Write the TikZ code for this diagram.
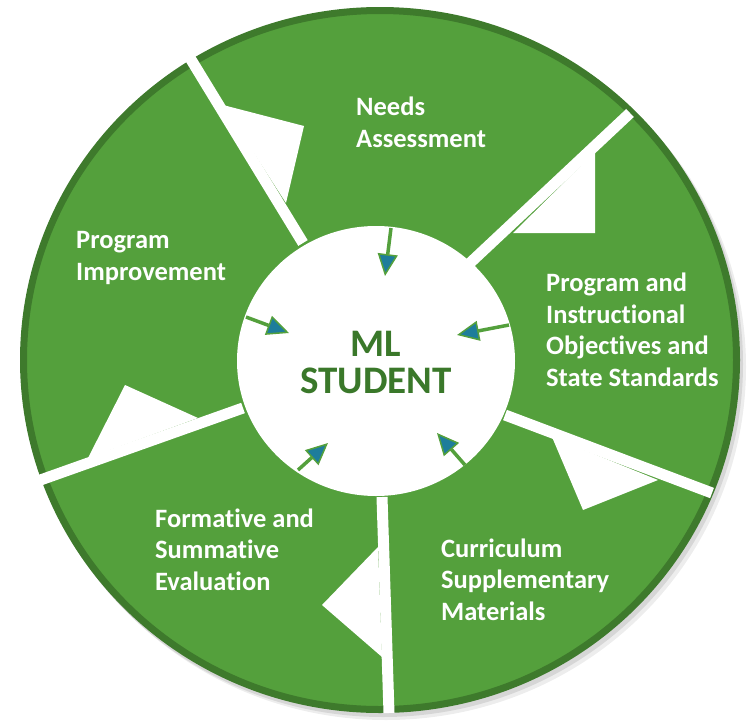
\documentclass[tikz,border=0pt]{standalone}
\usepackage{fontspec}
\setmainfont{Carlito}[Ligatures=NoCommon]
\usetikzlibrary{arrows.meta}

\definecolor{ringgreen}{RGB}{84,160,60}
\definecolor{rimgreen}{RGB}{62,122,44}
\definecolor{textgreen}{RGB}{58,120,42}
\definecolor{tipblue}{RGB}{30,125,155}

\begin{document}
\begin{tikzpicture}[x=1pt,y=-1pt,
  lbl/.style={anchor=base west,align=left,inner sep=0pt,text=white,
    font=\fontsize{26.5}{31.5}\selectfont\bfseries},
  sepline/.style={white,line width=11pt},
  flag/.style={fill=white},
  arr/.style={ringgreen,line width=3.5pt,
    -{Triangle[length=22pt,width=20pt,fill=tipblue,line width=1.5pt]}}]

\useasboundingbox (0,0) rectangle (755,723);

% --- shadow and ring ---
\fill[black!7] (386,367) ellipse [x radius=360, y radius=353];
\fill[black!16] (383,364) ellipse [x radius=360, y radius=353];
\filldraw[fill=ringgreen,draw=rimgreen,line width=7pt]
  (380,360) ellipse [x radius=356.5, y radius=349.5];

% --- separators ---
\draw[sepline] (303,243) -- (187,53);
\draw[sepline] (470,263) -- (630,113);
\draw[sepline] (505,415) -- (712,493);
\draw[sepline] (382,497) -- (389,713);
\draw[sepline] (243,408) -- (32,483);

% --- flags ---
\fill[flag] (223,105) -- (304,126) -- (286,203) -- cycle;
\fill[flag] (595,152) -- (595,233) -- (513,233) -- cycle;
\fill[flag] (552,437) -- (583,510) -- (658,480) -- cycle;
\fill[flag] (378,547) -- (322,605) -- (382,657) -- cycle;
\fill[flag] (88,458) -- (125,385) -- (198,418) -- cycle;

% --- center ---
\fill[white] (376,361) ellipse [x radius=139, y radius=135];
\node[align=center,inner sep=0pt,text=textgreen,
  font=\fontsize{39}{37}\selectfont\bfseries] (student) at (376,362) {ML\\STUDENT};

% --- arrows ---
\coordinate (s1) at (391,228); \coordinate (e1) at (385,276);
\coordinate (s2) at (246,317); \coordinate (e2) at (289,333);
\coordinate (s3) at (509,325); \coordinate (e3) at (457,335);
\coordinate (s4) at (298,470); \coordinate (e4) at (328,443);
\coordinate (s5) at (465,465); \coordinate (e5) at (437,433);
\foreach \n in {1,...,5}
  \draw[arr] (s\n) -- (e\n);

% --- labels (base = last line) ---
\node[lbl] (needs) at (356,147) {Needs\\Assessment};
\node[lbl] (objectives) at (546,386) {Program and\\Instructional\\Objectives and\\State Standards};
\node[lbl] (curriculum) at (441,620) {Curriculum\\Supplementary\\Materials};
\node[lbl] (evaluation) at (155,590) {Formative and\\Summative\\Evaluation};
\node[lbl] (improvement) at (76,280) {Program\\Improvement};

\end{tikzpicture}
\end{document}
